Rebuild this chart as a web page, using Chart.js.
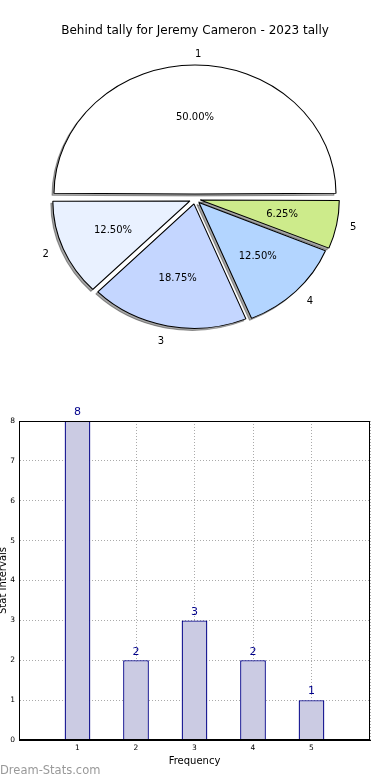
<!DOCTYPE html>
<html>
<head>
<meta charset="utf-8">
<script src="https://cdn.jsdelivr.net/npm/chart.js@4"></script>
<style>
  body { margin: 0; background: #fff; }
  #wrap { position: relative; width: 390px; height: 780px; overflow: hidden; }
  #pie-box { position: absolute; left: 0; top: 0; }
  #bar-box { position: absolute; left: 0; top: 400px; }
  #watermark {
    position: absolute; left: 0; top: 763px;
    font: 11.5px "DejaVu Sans", sans-serif; line-height: 14px; color: #999;
  }
</style>
</head>
<body>
<div id="wrap">
  <div id="pie-box"><canvas id="chart-pie" width="390" height="400"></canvas></div>
  <div id="bar-box"><canvas id="chart-bar" width="390" height="380"></canvas></div>
  <div id="watermark">Dream-Stats.com</div>
</div>
<script>
// 데이터
const TITLE = "Behind tally for Jeremy Cameron - 2023 tally";
const FREQUENCIES = ["1", "2", "3", "4", "5"];
const COUNTS = [8, 2, 3, 2, 1];
const SLICE_COLORS = ["#ffffff", "#e9f1ff", "#c4d6ff", "#b3d5ff", "#cdeb8b"];
const Y_TICKS = [0, 1, 2, 3, 4, 5, 6, 7, 8];

(function () {
  Chart.defaults.font.family = '"DejaVu Sans", sans-serif';
  Chart.defaults.color = "#000";

  const STRETCH_X = 1.093; // 원형이 가로로 약간 늘어난 타원
  const EXPLODE = 20; // arc offset (그려질 때 /4)
  const NOMINAL_R = 127;

  function stretch(ctx, cx, cy) {
    ctx.translate(cx, cy);
    ctx.scale(STRETCH_X, 1);
    ctx.translate(-cx, -cy);
  }

  const pieLook = {
    id: "pieLook",
    beforeDatasetsDraw(chart) {
      const ctx = chart.ctx;
      const arcs = chart.getDatasetMeta(0).data;
      const { x: cx, y: cy } = arcs[0];
      // 그림자
      ctx.save();
      ctx.translate(-2, 2);
      stretch(ctx, cx, cy);
      ctx.filter = "brightness(0)";
      ctx.globalAlpha = 0.35;
      arcs.forEach((a) => a.draw(ctx));
      ctx.restore();
      ctx.save();
      stretch(ctx, cx, cy);
    },
    afterDatasetsDraw(chart) {
      chart.ctx.restore();
    },
    afterDraw(chart) {
      const ctx = chart.ctx;
      const meta = chart.getDatasetMeta(0);
      const values = chart.data.datasets[0].data;
      const labels = chart.data.labels;
      const total = values.reduce((s, v) => s + v, 0);
      const off = EXPLODE / 4;
      ctx.save();
      ctx.font = '10px "DejaVu Sans"';
      ctx.fillStyle = "#000";
      ctx.textBaseline = "middle";
      meta.data.forEach((arc, i) => {
        const { x, y, startAngle, endAngle } = arc.getProps(["x", "y", "startAngle", "endAngle"], true);
        const mid = (startAngle + endAngle) / 2;
        const dx = Math.cos(mid);
        const dy = Math.sin(mid);
        const lr = off + NOMINAL_R * 1.1;
        ctx.textAlign = dx < -1e-6 ? "right" : "left";
        ctx.fillText(labels[i], x + STRETCH_X * dx * lr, y + dy * lr);
        const pr = off + NOMINAL_R * 0.6;
        ctx.textAlign = "center";
        const pct = ((values[i] / total) * 100).toFixed(2) + "%";
        ctx.fillText(pct, x + STRETCH_X * dx * pr, y + dy * pr);
      });
      ctx.restore();
    },
  };

  function renderPie() {
    // 반시계 방향(matplotlib)을 흉내 내려고 역순으로 시계 방향 배치
    const labels = FREQUENCIES.slice().reverse();
    const data = COUNTS.slice().reverse();
    const colors = SLICE_COLORS.slice().reverse();
    new Chart(document.getElementById("chart-pie").getContext("2d"), {
      type: "pie",
      data: {
        labels,
        datasets: [
          {
            data,
            backgroundColor: colors,
            borderColor: "#000",
            borderWidth: 1,
            offset: EXPLODE,
          },
        ],
      },
      options: {
        responsive: false,
        animation: false,
        rotation: 90,
        radius: 124,
        layout: { padding: { top: 0, bottom: 42.4, left: 0, right: 0 } },
        plugins: {
          legend: { display: false },
          tooltip: { enabled: false },
          title: {
            display: true,
            text: TITLE,
            color: "#000",
            font: { size: 12, weight: "normal" },
            padding: { top: 24, bottom: 2 },
          },
        },
      },
      plugins: [pieLook],
    });
  }

  const barLook = {
    id: "barLook",
    afterDatasetsDraw(chart) {
      const ctx = chart.ctx;
      const meta = chart.getDatasetMeta(0);
      ctx.save();
      ctx.font = '11px "DejaVu Sans"';
      ctx.fillStyle = "#00008b";
      ctx.textAlign = "center";
      ctx.textBaseline = "bottom";
      meta.data.forEach((bar, i) => {
        ctx.fillText(String(COUNTS[i]), bar.x, bar.y - 3);
      });
      ctx.restore();
    },
    afterDraw(chart) {
      const { left, top, width, height } = chart.chartArea;
      const ctx = chart.ctx;
      ctx.save();
      ctx.strokeStyle = "#000";
      ctx.lineWidth = 1;
      ctx.strokeRect(Math.round(left) + 0.5, Math.round(top) + 0.5, Math.round(width) - 1, Math.round(height) - 1);
      ctx.restore();
    },
  };

  function renderBar() {
    const points = FREQUENCIES.map((f, i) => ({ x: Number(f), y: COUNTS[i] }));
    new Chart(document.getElementById("chart-bar").getContext("2d"), {
      type: "bar",
      data: {
        datasets: [
          {
            data: points,
            backgroundColor: "#cbcbe3",
            borderColor: "#000088",
            borderWidth: 1.3,
            borderSkipped: "bottom",
            barPercentage: 0.44,
            categoryPercentage: 1,
          },
        ],
      },
      options: {
        responsive: false,
        animation: false,
        layout: { padding: { top: 21, right: 20, bottom: 13, left: 0 } },
        plugins: { legend: { display: false }, tooltip: { enabled: false } },
        scales: {
          x: {
            type: "linear",
            min: 0,
            max: FREQUENCIES.length + 1,
            offset: false,
            grid: { color: "#aaaaaa", drawTicks: false, offset: false },
            border: { color: "#000", dash: [1, 2] },
            ticks: {
              stepSize: 1,
              padding: 4,
              font: { size: 7.5 },
              callback: (v) => (FREQUENCIES.includes(String(v)) ? String(v) : ""),
            },
            title: { display: true, text: "Frequency", font: { size: 10 }, padding: { top: 2, bottom: 0 } },
            afterFit: (scale) => {
              scale.height = 27;
            },
          },
          y: {
            min: Y_TICKS[0],
            max: Y_TICKS[Y_TICKS.length - 1],
            grid: { color: "#aaaaaa", drawTicks: false },
            border: { color: "#000", dash: [1, 2] },
            ticks: { stepSize: 1, padding: 4, font: { size: 7.5 } },
            title: { display: true, text: "Stat Intervals", font: { size: 10 }, padding: { top: -3, bottom: 0 } },
            afterFit: (scale) => {
              scale.width = 19;
            },
          },
        },
      },
      plugins: [barLook],
    });
  }

  renderPie();
  renderBar();
})();
</script>
</body>
</html>
